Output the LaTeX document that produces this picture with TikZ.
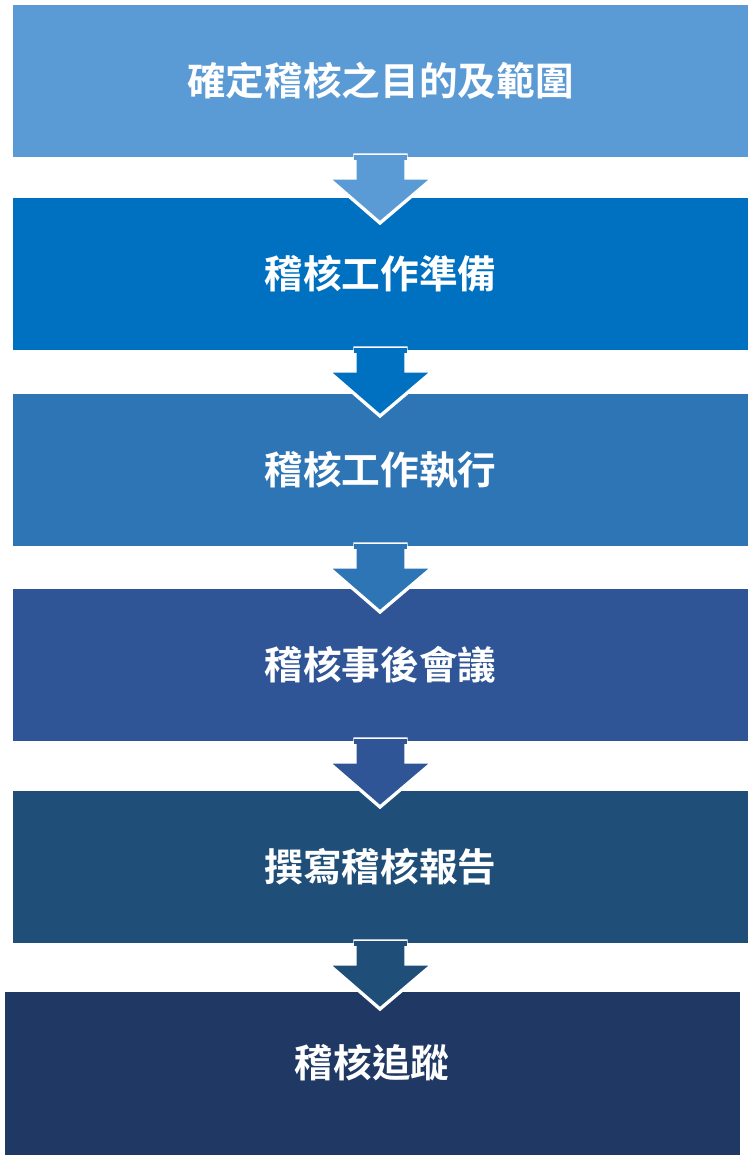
\documentclass[tikz,border=0pt]{standalone}
\usepackage{fontspec}
\newfontfamily\cjk{Noto Sans CJK TC}[BoldFont={* Bold}]
\definecolor{c1}{HTML}{5B9BD5}
\definecolor{c2}{HTML}{0070C0}
\definecolor{c3}{HTML}{2E75B6}
\definecolor{c4}{HTML}{2F5597}
\definecolor{c5}{HTML}{1F4E79}
\definecolor{c6}{HTML}{203864}
\begin{document}
\begin{tikzpicture}[x=0.75pt,y=-0.75pt,
 lbl/.style={text=white,font=\cjk\bfseries\fontsize{29pt}{32pt}\selectfont}]
\useasboundingbox (0,0) rectangle (754,1160);
\fill[white] (0,0) rectangle (754,1160);
\newcommand\bx[5]{\fill[#4] (#1,#2) rectangle (#3,#2+152);
 \node[lbl] (n#4) at ({(#1+#3)/2},#2+76) {#5};}
\newcommand\arr[2]{\fill[#2,draw=white,line width=2.5pt,line join=miter]
 (355,#1-2) -- (406,#1-2) -- (406,#1+21) -- (433,#1+21) -- (380,#1+66) -- (328,#1+21) -- (355,#1+21) -- cycle;}
\bx{13}{5}{748}{c1}{確定稽核之目的及範圍}
\bx{13}{198}{748}{c2}{稽核工作準備}
\bx{13}{394}{748}{c3}{稽核工作執行}
\bx{13}{589}{748}{c4}{稽核事後會議}
\bx{13}{791}{748}{c5}{撰寫稽核報告}
\fill[c6] (5,992) rectangle (740,1155);
\node[lbl] (n6) at (372,1063) {稽核追蹤};
\arr{157}{c1}
\arr{350}{c2}
\arr{546}{c3}
\arr{741}{c4}
\arr{943}{c5}
\fill[c1] (354,155) rectangle (407,160);
\fill[c2] (354,348) rectangle (407,353);
\fill[c3] (354,544) rectangle (407,549);
\fill[c4] (354,739) rectangle (407,744);
\fill[c5] (354,941) rectangle (407,946);
\end{tikzpicture}
\end{document}
